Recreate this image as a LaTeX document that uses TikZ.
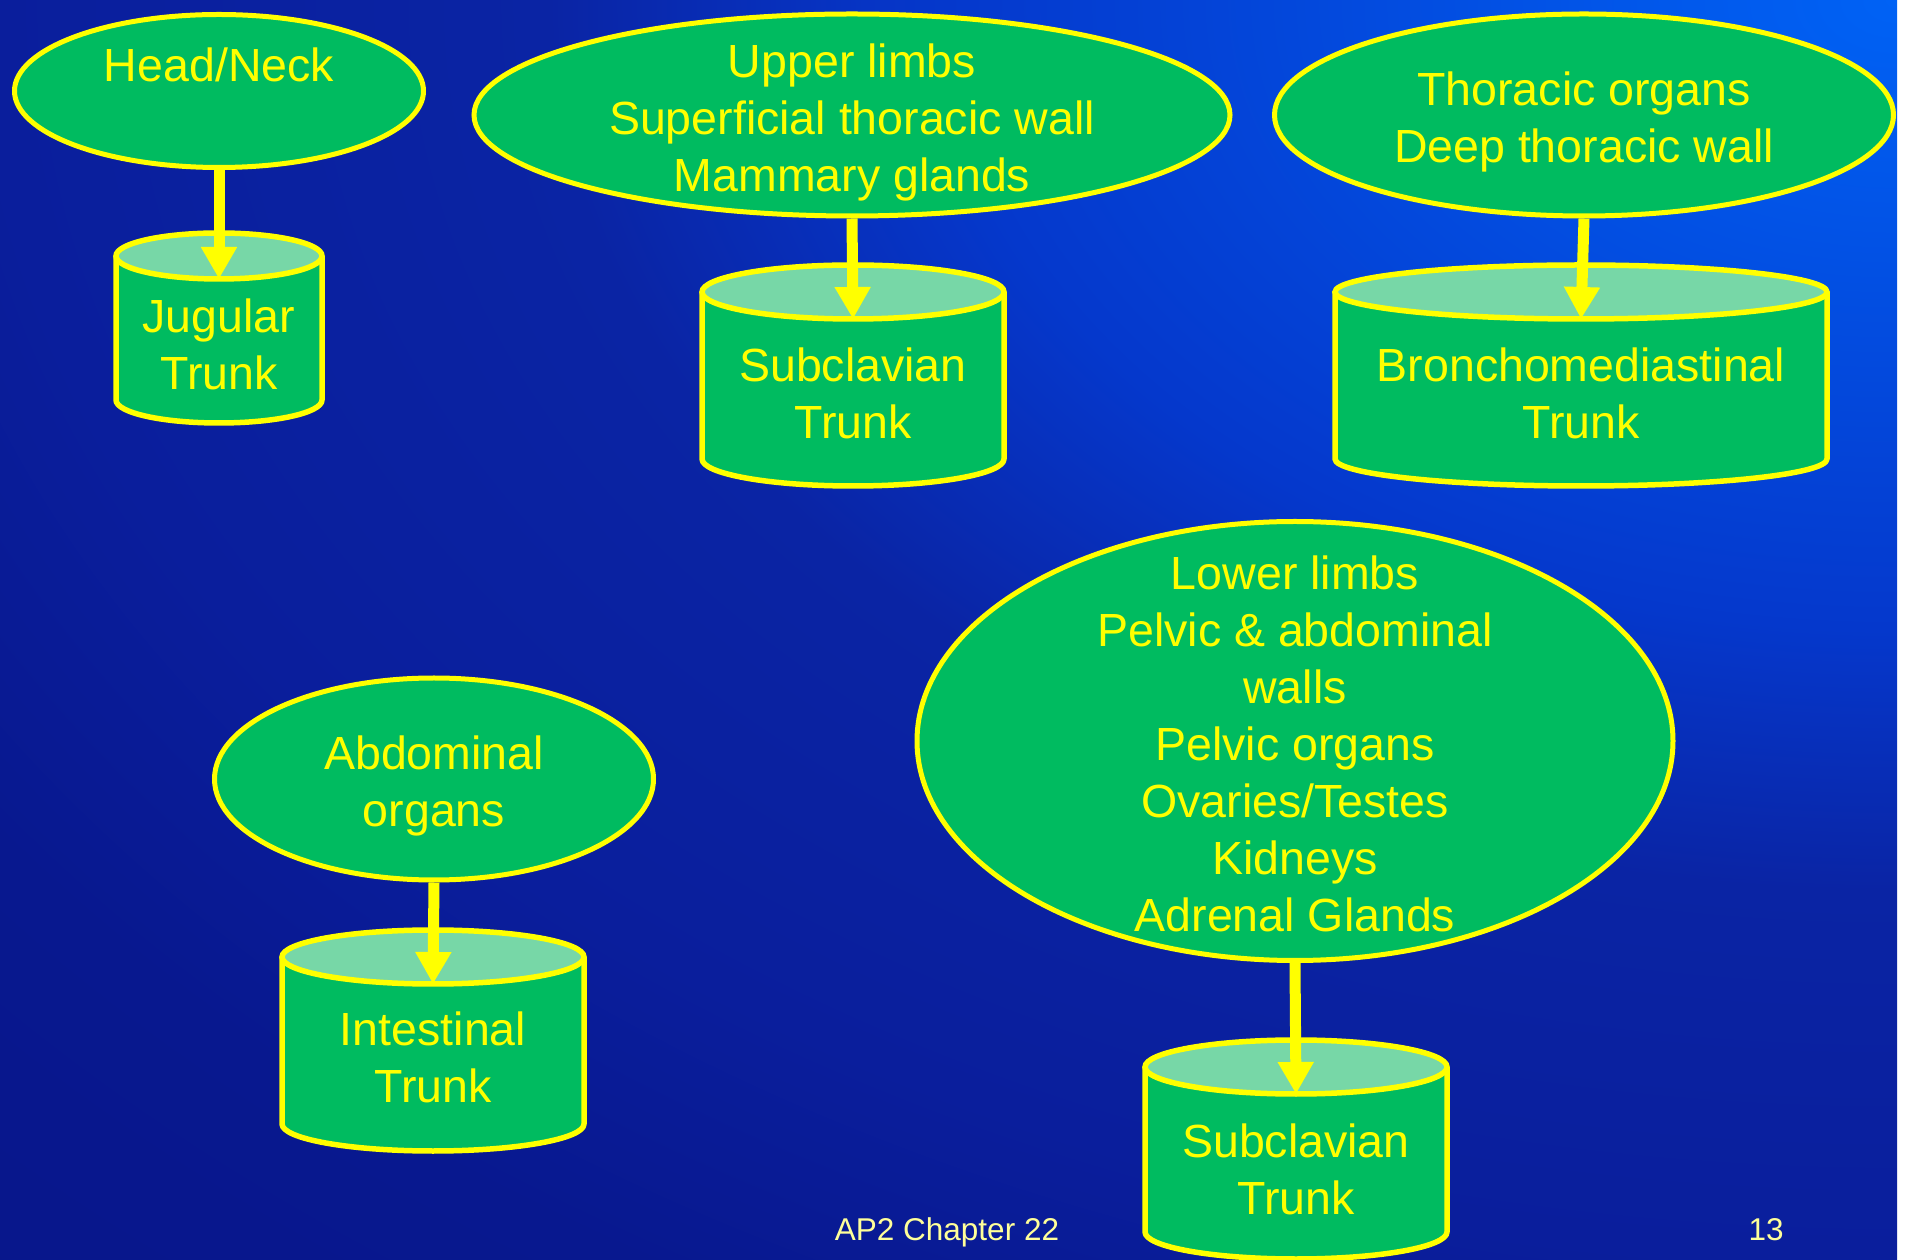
\documentclass[tikz,border=0pt]{standalone}
\usepackage{fontspec}
\setmainfont{Liberation Sans}
\usetikzlibrary{shapes.geometric,arrows.meta}
\definecolor{ovgreen}{HTML}{00BB60}
\definecolor{captop}{HTML}{77D7A7}
\definecolor{ylw}{HTML}{FFFF00}
\definecolor{footc}{HTML}{FFFF99}
\definecolor{bgA}{HTML}{0062F5}
\definecolor{bgB}{HTML}{0538CC}
\definecolor{bgC}{HTML}{0A24A4}
\definecolor{bgD}{HTML}{0A1E9C}
\definecolor{bgE}{HTML}{08188F}
\definecolor{bgF}{HTML}{08168A}
\pgfdeclareradialshading{bgrad}{\pgfpoint{0bp}{0bp}}{color(0bp)=(bgA); color(8.33bp)=(bgB); color(11.8bp)=(bgC); color(16.67bp)=(bgD); color(20bp)=(bgE); color(25bp)=(bgF); color(50bp)=(bgF)}
% name, cx, topY, botY, rx, ry, textY, text
\newcommand\mycyl[8]{%
  \fill[cylbody] (#2-#5,#3) -- (#2-#5,#4) arc[start angle=180,end angle=360,x radius=#5,y radius=#6] -- (#2+#5,#3) -- cycle;
  \draw[cylline] (#2-#5,#3) -- (#2-#5,#4) arc[start angle=180,end angle=360,x radius=#5,y radius=#6] -- (#2+#5,#3);
  \filldraw[cyltop] (#2,#3) ellipse[x radius=#5,y radius=#6];
  \node[cyltext] (#1) at (#2,#7) {#8};
  \coordinate (#1top) at (#2,#3-#6);
}
\begin{document}
\begin{tikzpicture}[x=1pt,y=1pt,
  oval/.style={ellipse, draw=ylw, line width=5pt, fill=ovgreen, inner sep=0pt},
  ovtext/.style={text=ylw, align=center, inner sep=0pt, font=\fontsize{46.5}{57}\selectfont},
  cyltext/.style={text=ylw, align=center, inner sep=0pt, font=\fontsize{46.5}{57}\selectfont},
  cylbody/.style={fill=ovgreen},
  cylline/.style={draw=ylw, line width=5.5pt, line join=round},
  cyltop/.style={fill=captop, draw=ylw, line width=5.5pt},
  arr/.style={draw=ylw, line width=11pt, -{Triangle[width=34pt,length=32pt]}},
  foot/.style={text=footc, inner sep=0pt, font=\fontsize{31.5}{36}\selectfont}]
\useasboundingbox (0,0) rectangle (1906,1259);
\fill[white] (0,0) rectangle (1906,1259);
\fill[bgF] (0,0) rectangle (1897,1259);
\begin{scope}
  \clip (0,0) rectangle (1897,1259);
  \shade[shading=bgrad] (1897,1259) ellipse [x radius=2859, y radius=1888];
\end{scope}
% ovals
\node[oval, minimum width=409pt, minimum height=153pt] (head) at (219,1168) {};
\node[ovtext] (headT) at (219,1165.6) {Head/Neck\\\phantom{H}};
\node[oval, minimum width=756pt, minimum height=202pt] (upper) at (852,1144) {};
\node[ovtext] (upperT) at (852,1136.7) {Upper limbs\\Superficial thoracic wall\\Mammary glands};
\node[oval, minimum width=619pt, minimum height=202pt] (thor) at (1584,1144) {};
\node[ovtext] (thorT) at (1584,1136.7) {Thoracic organs\\Deep thoracic wall};
\node[oval, minimum width=439pt, minimum height=202pt] (abd) at (434,480) {};
\node[ovtext] (abdT) at (434,472.7) {Abdominal\\organs};
\node[oval, minimum width=756pt, minimum height=439pt] (lower) at (1295,518) {};
\node[ovtext] (lowerT) at (1295,515.6) {Lower limbs\\Pelvic \& abdominal\\walls\\Pelvic organs\\Ovaries/Testes\\Kidneys\\Adrenal Glands};
% cylinders
\mycyl{jug}{219}{1003}{859}{103}{23}{914.5}{Jugular\\Trunk}
\mycyl{subA}{853}{967}{800}{151}{27}{866}{Subclavian\\Trunk}
\mycyl{bron}{1581}{967}{800}{246}{27}{866}{Bronchomediastinal\\Trunk}
\mycyl{intest}{433}{302}{135}{151}{27}{202}{Intestinal\\Trunk}
\mycyl{subB}{1296}{192}{27}{151}{27}{90}{Subclavian\\Trunk}
% arrows
\draw[arr] (head.south) -- (jugtop);
\draw[arr] (upper.south) -- (subAtop);
\draw[arr] (thor.south) -- (brontop);
\draw[arr] (abd.south) -- (intesttop);
\draw[arr] (lower.south) -- (subBtop);
% footer
\node[foot] (chap) at (947,26.6) {AP2 Chapter 22};
\node[foot] (pg) at (1766,29) {13};
\end{tikzpicture}
\end{document}
